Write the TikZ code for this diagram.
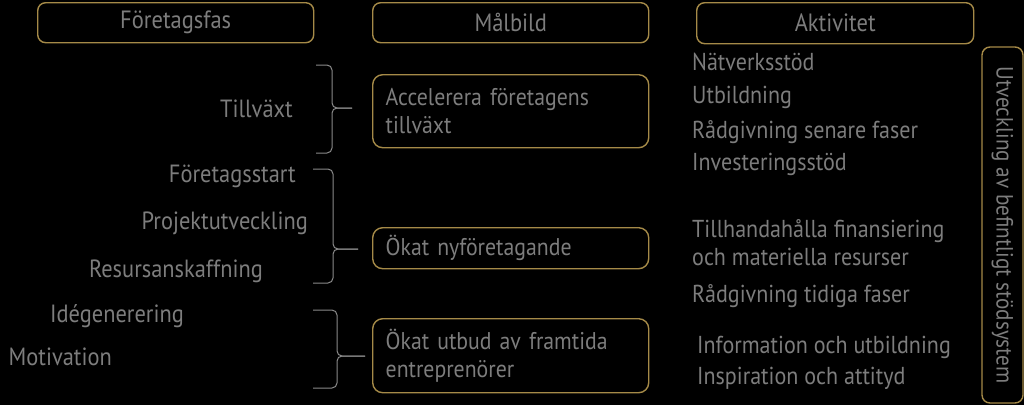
\documentclass[tikz,border=0pt]{standalone}
\usepackage{fontspec}
\setmainfont{PT Sans}[FakeStretch=0.9]
\usepackage{xcolor}
\usepackage{tikz}
\usetikzlibrary{positioning}
\definecolor{goldline}{RGB}{165,138,72}
\definecolor{greytext}{RGB}{125,125,125}
\tikzset{
    block/.style={
           rectangle,
           rounded corners=8pt,
           draw=goldline, line width=1.4pt,
           text=greytext,
           inner sep=0pt,
           text centered,
           font=\fontsize{25}{28}\selectfont,
           },
    goal/.style={
           block,
           rounded corners=10pt,
           minimum width=276pt,
           text width=250pt,
           inner xsep=13pt,
           align=left,
           font=\fontsize{24.2}{28}\selectfont,
           },
    frameless/.style={
           text=greytext,
           inner sep=0pt,
           },
    phase/.style={frameless, anchor=base east, font=\fontsize{24.9}{28}\selectfont},
    activity/.style={frameless, anchor=base west, align=left, font=\fontsize{24.5}{28}\selectfont},
    brace/.style={draw=greytext!90, line width=1pt, rounded corners=5pt},
}

\begin{document}
\begin{tikzpicture}[x=1pt, y=-1pt, auto]
	\fill[black] (0,0) rectangle (1024,405);
	\useasboundingbox (0,0) rectangle (1024,405);

	% column headers
	\node[block, anchor=north west, minimum width=276pt, minimum height=40pt] (fas) at (37,2) {Företagsfas};
	\node[block, anchor=north west, minimum width=276pt, minimum height=40pt] (malbild) at (372,2) {Målbild};
	\node[block, anchor=north west, minimum width=277pt, minimum height=41pt] (aktivitet) at (696,2) {Aktivitet};

	% phases
	\node[phase] (tillvaxt) at (293,117) {Tillväxt};
	\node[phase] (start) at (296,182) {Företagsstart};
	\node[phase] (projekt) at (308,229) {Projektutveckling};
	\node[phase] (resurs) at (263,277) {Resursanskaffning};
	\node[phase] (ide) at (184,322) {Idégenerering};
	\node[phase] (motiv) at (112,365) {Motivation};

	% goals
	\node[goal, anchor=north west, minimum height=73pt] (accel) at (372,74)
		{Accelerera företagens\\tillväxt};
	\node[goal, anchor=north west, minimum height=41pt] (nyftg) at (372,227)
		{Ökat nyföretagande};
	\node[goal, anchor=north west, minimum height=74pt] (utbud) at (372,318)
		{Ökat utbud av framtida\\entreprenörer};

	% activities
	\node[activity] (natverk) at (692,70) {Nätverksstöd};
	\node[activity] (utb) at (692,103) {Utbildning};
	\node[activity] (radsen) at (692,138) {Rådgivning senare faser};
	\node[activity] (invest) at (692,170) {Investeringsstöd};
	\node[activity] (finans) at (692,265) {Tillhandahålla finansiering\\och materiella resurser};
	\node[activity] (radtid) at (692,302) {Rådgivning tidiga faser};
	\node[activity] (info) at (697,353) {Information och utbildning};
	\node[activity] (insp) at (697,384) {Inspiration och attityd};

	\node[block, rotate=-90, minimum width=356pt, minimum height=41pt,
		font=\fontsize{23.5}{28}\selectfont] (stod) at (1002.5,225)
		{Utveckling av befintligt stödsystem};

	% braces
	\coordinate (b1t) at (316,65);  \coordinate (b1m) at (332,108);
	\coordinate (b1b) at (316,153); \coordinate (b1e) at (352,108);
	\coordinate (b2t) at (313,169); \coordinate (b2m) at (333,249);
	\coordinate (b2b) at (313,283); \coordinate (b2e) at (358,249);
	\coordinate (b3t) at (313,310); \coordinate (b3m) at (337,356);
	\coordinate (b3b) at (313,388); \coordinate (b3e) at (365,356);

	\draw[brace] (b1t) -| (b1m) -- (b1e);
	\draw[brace] (b1b) -| (b1m) -- (b1e);
	\draw[brace] (b2t) -| (b2m) -- (b2e);
	\draw[brace] (b2b) -| (b2m) -- (b2e);
	\draw[brace] (b3t) -| (b3m) -- (b3e);
	\draw[brace] (b3b) -| (b3m) -- (b3e);

\end{tikzpicture}
\end{document}
